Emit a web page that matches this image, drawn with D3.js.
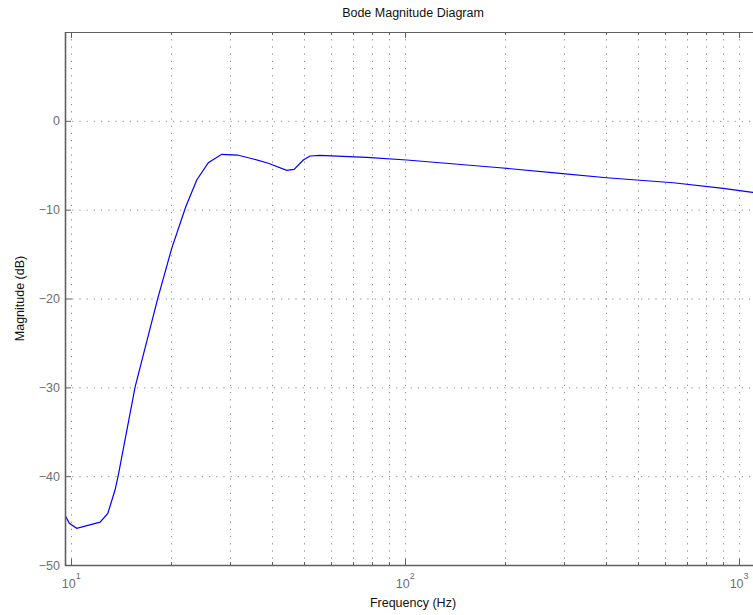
<!DOCTYPE html>
<html>
<head>
<meta charset="utf-8">
<script src="https://cdn.jsdelivr.net/npm/d3@7"></script>
<style>
  html, body { margin: 0; padding: 0; background: #fff; }
  svg { display: block; }
  text { font-family: "Liberation Sans", Arial, Helvetica, sans-serif; }
</style>
</head>
<body>
<div id="chart"></div>
<script>
// ---- data ----
const freqHz = [9.61, 9.90, 10.42, 12.24, 12.91, 13.57, 13.88, 15.58, 18.22, 20.06, 22.10, 23.84, 25.82, 28.32, 31.53, 35.22, 39.05, 44.34, 46.63, 49.71, 52.06, 55.78, 76.95, 101.4, 192.9, 291.7, 402.5, 637.2, 899.4, 1101, 1167];
const magnitudeDb = [-44.38, -45.31, -45.87, -45.17, -44.19, -41.56, -39.87, -29.97, -19.98, -14.35, -9.67, -6.66, -4.72, -3.77, -3.85, -4.30, -4.78, -5.57, -5.46, -4.41, -3.96, -3.88, -4.11, -4.41, -5.28, -5.91, -6.41, -6.97, -7.60, -8.05, -8.17];
const yTicks = [-50, -40, -30, -20, -10, 0];
const yGrid = [-50, -40, -30, -20, -10, 0, 10];
const xMajorTicks = [10, 100, 1000];
const xMajorExponents = ["1", "2", "3"];
const xMinorTicks = [20, 30, 40, 50, 60, 70, 80, 90, 200, 300, 400, 500, 600, 700, 800, 900];
const xDomain = [9.61, 1167];
const yDomain = [-50, 10];
const titleText = "Bode Magnitude Diagram";
const xLabelText = "Frequency (Hz)";
const yLabelText = "Magnitude (dB)";

// ---- layout ----
const W = 753, H = 615;
const pL = 65, pR = 761, pT = 32, pB = 565;

const svg = d3.select("#chart").append("svg")
  .attr("width", W).attr("height", H);

const x = d3.scaleLog().domain(xDomain).range([pL, pR]);
const y = d3.scaleLinear().domain(yDomain).range([pB, pT]);

const axisColor = "#606060";
const gridColor = "#8a8a8a";
const dash = "1.2,6";

// grid
const grid = svg.append("g");
grid.selectAll("line.hg").data(yGrid).enter().append("line")
  .attr("x1", pL).attr("x2", pR)
  .attr("y1", d => y(d) + 0.5).attr("y2", d => y(d) + 0.5)
  .attr("stroke", gridColor).attr("stroke-width", 1)
  .attr("stroke-dasharray", dash);
grid.selectAll("line.vg").data(xMajorTicks.concat(xMinorTicks)).enter().append("line")
  .attr("x1", d => Math.round(x(d)) + 0.5).attr("x2", d => Math.round(x(d)) + 0.5)
  .attr("y1", pT).attr("y2", pB)
  .attr("stroke", gridColor).attr("stroke-width", 1)
  .attr("stroke-dasharray", dash);

// curve
svg.append("clipPath").attr("id", "clip")
  .append("rect").attr("x", pL).attr("y", pT)
  .attr("width", pR - pL).attr("height", pB - pT);

const line = d3.line().x((d, i) => x(freqHz[i])).y(d => y(d));
svg.append("path")
  .datum(magnitudeDb)
  .attr("clip-path", "url(#clip)")
  .attr("d", line)
  .attr("fill", "none")
  .attr("stroke", "#0000ff")
  .attr("stroke-width", 1.2);

// axes box
const ax = svg.append("g");
ax.append("line").attr("x1", pL + 0.5).attr("x2", pL + 0.5).attr("y1", pT).attr("y2", pB + 1)
  .attr("stroke", axisColor).attr("stroke-width", 1.6);
ax.append("line").attr("x1", pL).attr("x2", pR).attr("y1", pB + 0.5).attr("y2", pB + 0.5)
  .attr("stroke", axisColor).attr("stroke-width", 1.6);
ax.append("line").attr("x1", pL).attr("x2", pR).attr("y1", pT + 0.5).attr("y2", pT + 0.5)
  .attr("stroke", axisColor).attr("stroke-width", 1.2);
ax.append("line").attr("x1", pR - 0.5).attr("x2", pR - 0.5).attr("y1", pT).attr("y2", pB)
  .attr("stroke", axisColor).attr("stroke-width", 1.2);

// y ticks
ax.selectAll("line.yt").data(yTicks).enter().append("line")
  .attr("x1", pL).attr("x2", pL + 6)
  .attr("y1", d => y(d) + 0.5).attr("y2", d => y(d) + 0.5)
  .attr("stroke", axisColor).attr("stroke-width", 1);
ax.selectAll("text.yl").data(yTicks).enter().append("text")
  .attr("x", 60).attr("y", d => y(d)).attr("dy", "0.36em")
  .attr("text-anchor", "end")
  .attr("font-size", 12.5).attr("fill", "#6e6e6e")
  .text(d => d < 0 ? "\u2212" + Math.abs(d) : String(d));

// x ticks (bottom and top)
ax.selectAll("line.xt").data(xMajorTicks).enter().append("line")
  .attr("x1", d => Math.round(x(d)) + 0.5).attr("x2", d => Math.round(x(d)) + 0.5)
  .attr("y1", pB).attr("y2", pB - 6)
  .attr("stroke", axisColor).attr("stroke-width", 1);
ax.selectAll("line.xtt").data(xMajorTicks).enter().append("line")
  .attr("x1", d => Math.round(x(d)) + 0.5).attr("x2", d => Math.round(x(d)) + 0.5)
  .attr("y1", pT).attr("y2", pT + 6)
  .attr("stroke", axisColor).attr("stroke-width", 1);
ax.selectAll("line.xm").data(xMinorTicks).enter().append("line")
  .attr("x1", d => Math.round(x(d)) + 0.5).attr("x2", d => Math.round(x(d)) + 0.5)
  .attr("y1", pB).attr("y2", pB - 3)
  .attr("stroke", axisColor).attr("stroke-width", 1);
ax.selectAll("line.xmt").data(xMinorTicks).enter().append("line")
  .attr("x1", d => Math.round(x(d)) + 0.5).attr("x2", d => Math.round(x(d)) + 0.5)
  .attr("y1", pT).attr("y2", pT + 3)
  .attr("stroke", axisColor).attr("stroke-width", 1);

const xl = ax.selectAll("text.xl").data(xMajorTicks).enter().append("text")
  .attr("x", d => x(d) + 0.5).attr("y", 588)
  .attr("text-anchor", "middle")
  .attr("font-size", 12.5).attr("fill", "#6e6e6e");
xl.append("tspan").text("10");
xl.append("tspan").attr("dy", -9).attr("font-size", 9).text((d, i) => xMajorExponents[i]);

// title & labels
svg.append("text").attr("x", (pL + pR) / 2).attr("y", 17)
  .attr("text-anchor", "middle").attr("font-size", 12.5).attr("fill", "#111")
  .text(titleText);
svg.append("text").attr("x", (pL + pR) / 2).attr("y", 607)
  .attr("text-anchor", "middle").attr("font-size", 12.5).attr("fill", "#111")
  .text(xLabelText);
svg.append("text")
  .attr("transform", `translate(24, ${(pT + pB) / 2}) rotate(-90)`)
  .attr("text-anchor", "middle").attr("font-size", 12.5).attr("fill", "#111")
  .text(yLabelText);
</script>
</body>
</html>
